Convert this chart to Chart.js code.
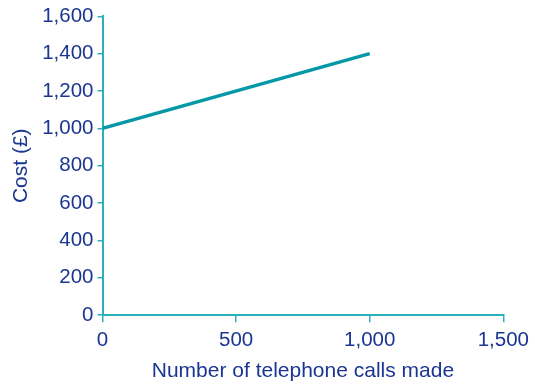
<!DOCTYPE html>
<html lang="en">
<head>
<meta charset="UTF-8">
<title>Cost vs calls</title>
<script src="https://cdn.jsdelivr.net/npm/chart.js"></script>
<style>
  body { margin: 0; background: #fff; }
  #grafico { display: block; }
</style>
</head>
<body>
<canvas id="grafico" width="535" height="384"></canvas>
<script>
  // dados do gráfico
  const chamadas = [0, 1000];
  const custo = [1000, 1400];
  const ticksX = [0, 500, 1000, 1500];
  const ticksY = [0, 200, 400, 600, 800, 1000, 1200, 1400, 1600];

  const corTexto = '#1a3592';
  const corEixo = '#2ab0ba';
  const corLinha = '#0497a6';

  const pontos = chamadas.map((c, i) => ({ x: c, y: custo[i] }));

  const fonteTicks = { family: 'Liberation Sans, Arial, sans-serif', size: 20.5 };
  const fonteTitulo = { family: 'Liberation Sans, Arial, sans-serif', size: 21 };

  new Chart(document.getElementById('grafico'), {
    type: 'scatter',
    data: {
      datasets: [{
        data: pontos,
        showLine: true,
        borderColor: corLinha,
        borderWidth: 3.5,
        pointRadius: 0,
        fill: false
      }]
    },
    options: {
      responsive: false,
      animation: false,
      layout: { padding: { top: 4, right: 4, left: 5, bottom: 0 } },
      plugins: { legend: { display: false }, tooltip: { enabled: false } },
      scales: {
        x: {
          type: 'linear',
          min: 0, max: 1500,
          afterBuildTicks: s => { s.ticks = ticksX.map(v => ({ value: v })); },
          grid: { drawOnChartArea: false, drawTicks: true, tickLength: 7, color: corEixo, lineWidth: 1.5 },
          border: { color: corEixo, width: 2 },
          ticks: { color: corTexto, font: fonteTicks, padding: 6, maxRotation: 0,
                   callback: v => v.toLocaleString('en-GB') },
          title: { display: true, text: 'Number of telephone calls made', color: corTexto, font: fonteTitulo, padding: { top: 0, bottom: 0 } }
        },
        y: {
          min: 0, max: 1600,
          afterBuildTicks: s => { s.ticks = ticksY.map(v => ({ value: v })); },
          grid: { drawOnChartArea: false, drawTicks: true, tickLength: 5, color: corEixo, lineWidth: 1.5 },
          border: { color: corEixo, width: 2 },
          ticks: { color: corTexto, font: fonteTicks, padding: 4,
                   callback: v => v.toLocaleString('en-GB') },
          title: { display: true, text: 'Cost (£)', color: corTexto, font: fonteTitulo, padding: { bottom: 4 } }
        }
      }
    }
  });
</script>
</body>
</html>
